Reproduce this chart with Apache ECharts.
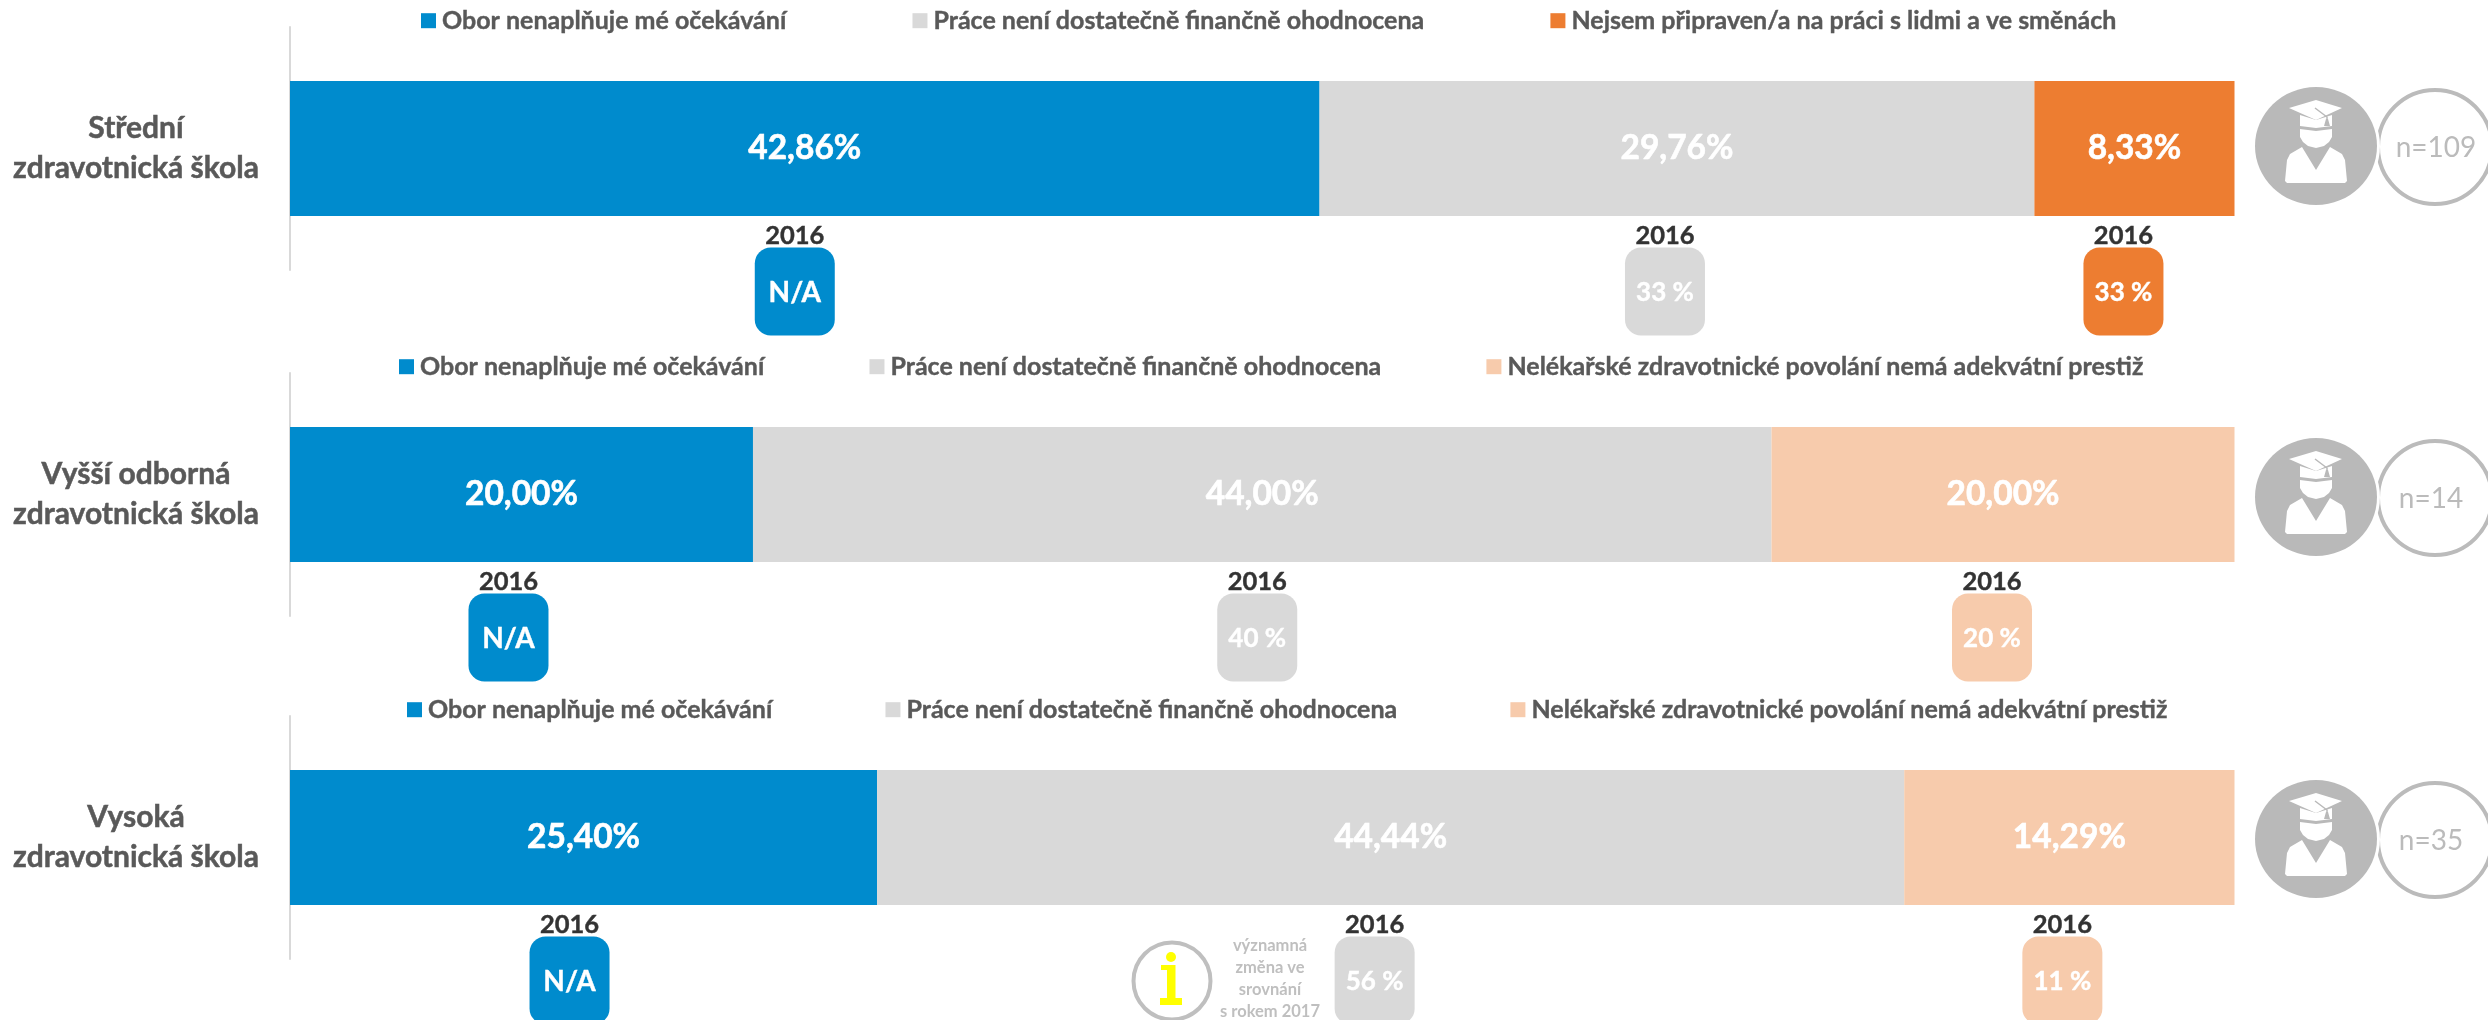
<!DOCTYPE html>
<html><head><meta charset="utf-8">
<style>html,body{margin:0;padding:0;background:#fff;overflow:hidden}#c{width:2488px;height:1020px}</style>
<script src="https://cdn.jsdelivr.net/npm/echarts@6/dist/echarts.min.js"></script>
</head><body><div id="c"></div>
<script>
const schools = ['Střední\nzdravotnická škola','Vyšší odborná\nzdravotnická škola','Vysoká\nzdravotnická škola'];
const nLabels = ['n=109','n=14','n=35'];
const nameObor = 'Obor nenaplňuje mé očekávání';
const namePrace = 'Práce není dostatečně finančně ohodnocena';
const nameNejsem = 'Nejsem připraven/a na práci s lidmi a ve směnách';
const namePrestiz = 'Nelékařské zdravotnické povolání nemá adekvátní prestiž';
const seriesNames = [[nameObor,namePrace,nameNejsem],[nameObor,namePrace,namePrestiz],[nameObor,namePrace,namePrestiz]];
const values1 = [42.86,29.76,8.33];
const values2 = [20.00,44.00,20.00];
const values3 = [25.40,44.44,14.29];
const prior1 = ['N/A','33 %','33 %'];
const prior2 = ['N/A','40 %','20 %'];
const prior3 = ['N/A','56 %','11 %'];
const priorYear = '2016';
const noteLines = 'významná\nzměna ve\nsrovnání\ns rokem 2017';

const FONT = 'Lato';
const colorOf = {[nameObor]:'#008BCD',[namePrace]:'#D9D9D9',[nameNejsem]:'#ED7D31',[namePrestiz]:'#F7CBAC'};
const allValues=[values1,values2,values3], allPrior=[prior1,prior2,prior3];
const gridTop=[27,373,716], gridH=243;
const legendTop=[3,349,692], legendLeft=[416,394,402], legendGap=[126,105,113];
const badgeShift=[[-10,-12,-11],[-13,-5,-11],[-14,-16,-7]];
const iconY=[146,497,839], nTextX=[2436,2431,2431];

const grid=[],xAxis=[],yAxis=[],series=[],legend=[];
schools.forEach((s,r)=>{
  grid.push({left:290,width:1944.5,top:gridTop[r],height:gridH});
  const total=allValues[r].reduce((a,b)=>a+b,0);
  xAxis.push({gridIndex:r,type:'value',min:0,max:total,show:false});
  yAxis.push({gridIndex:r,type:'category',data:[s],inverse:true,
    axisLine:{show:true,lineStyle:{color:'#D9D9D9',width:2}},axisTick:{show:false},
    axisLabel:{align:'center',margin:154,fontFamily:FONT,fontWeight:'bold',fontSize:30,lineHeight:40,color:'#595959',textBorderColor:'#595959',textBorderWidth:0.5}});
  legend.push({top:legendTop[r],left:legendLeft[r],itemWidth:15,itemHeight:15,itemGap:legendGap[r],icon:'rect',
    data:seriesNames[r],selectedMode:false,
    textStyle:{fontFamily:FONT,fontWeight:'bold',fontSize:25,color:'#595959',padding:[0,0,0,1],textBorderColor:'#595959',textBorderWidth:0.4}});
  allValues[r].forEach((v,i)=>{
    series.push({type:'bar',name:seriesNames[r][i],stack:'s'+r,xAxisIndex:r,yAxisIndex:r,barWidth:135,
      data:[v],itemStyle:{color:colorOf[seriesNames[r][i]]},animation:false,
      label:{show:true,position:'inside',formatter:p=>p.value.toFixed(2).replace('.',',')+'%',
        color:'#fff',fontFamily:FONT,fontWeight:'bold',fontSize:33.5,textBorderColor:'#fff',textBorderWidth:0.6}});
  });
  let cum=0;
  const badges=allValues[r].map((v,i)=>{const m=cum+v/2;cum+=v;return [m,0,i];});
  series.push({type:'custom',xAxisIndex:r,yAxisIndex:r,clip:false,silent:true,animation:false,
    encode:{x:0,y:1},data:badges,
    renderItem:(params,api)=>{
      const i=api.value(2),pt=api.coord([api.value(0),0]);
      const cx=pt[0]+badgeShift[r][i],cy=pt[1];
      const t=allPrior[r][i];
      return {type:'group',children:[
        {type:'rect',shape:{x:cx-40,y:cy+99,width:80,height:88,r:16},style:{fill:colorOf[seriesNames[r][i]]}},
        {type:'text',style:{x:cx,y:cy+87,text:priorYear,align:'center',verticalAlign:'middle',fontFamily:FONT,fontWeight:'bold',fontSize:25.5,fill:'#333',stroke:'#333',lineWidth:0.4}},
        {type:'text',style:{x:cx,y:cy+144,text:t,align:'center',verticalAlign:'middle',fontFamily:FONT,fontWeight:'bold',fontSize:t==='N/A'?28:26,fill:'#fff',stroke:'#fff',lineWidth:0.4}}
      ]};
    }});
});

function personIcon(cy,label,tx){
  const cx=2316, G='#B9B9B9', P=(a)=>a.map(p=>[cx+p[0],cy+p[1]]);
  return [
    {type:'circle',shape:{cx:2435,cy:cy+1,r:57},style:{fill:'#fff',stroke:'#BBBBBB',lineWidth:4}},
    {type:'text',style:{x:tx,y:cy+2,text:label,align:'center',verticalAlign:'middle',fontFamily:FONT,fontSize:28,fill:'#BBBBBB'}},
    {type:'ellipse',shape:{cx:cx,cy:cy,rx:64,ry:62},style:{fill:'#fff'}},
    {type:'ellipse',shape:{cx:cx,cy:cy,rx:61,ry:59},style:{fill:G}},
    {type:'polygon',shape:{points:P([[-16,-31],[0,-26],[16,-31],[16,-20],[8,-19],[0,-18],[-8,-19],[-16,-20]])},style:{fill:'#fff'}},
    {type:'polygon',shape:{points:P([[-16,-17],[-8,-16],[0,-15],[8,-16],[16,-17],[16,-9],[13,-4],[8,0],[0,2],[-8,0],[-13,-4],[-16,-9]])},style:{fill:'#fff'}},
    {type:'polygon',shape:{points:P([[-14,1],[0,24],[14,1],[26,8],[29,14],[31,35],[29,37],[-29,37],[-31,35],[-29,14],[-26,8]])},style:{fill:'#fff'}},
    {type:'polygon',shape:{points:P([[-27,-38],[0,-46],[26,-38],[0,-26]])},style:{fill:'#fff'}},
    {type:'polyline',shape:{points:P([[-1,-38],[11,-29],[11,-22]])},style:{stroke:G,fill:'none',lineWidth:1.5}},
    {type:'polygon',shape:{points:P([[10,-27],[12,-27],[14,-20],[8,-20]])},style:{fill:G}}
  ];
}
const graphic=[];
iconY.forEach((y,i)=>graphic.push(...personIcon(y,nLabels[i],nTextX[i])));
graphic.push(
  {type:'circle',shape:{cx:1172,cy:981,r:38.5},style:{fill:'#fff',stroke:'#BFBFBF',lineWidth:4}},
  {type:'circle',shape:{cx:1171,cy:957,r:5},style:{fill:'#FFFF00'}},
  {type:'polygon',shape:{points:[[1161,965],[1175.5,965],[1175.5,998],[1182,998],[1182,1005],[1160,1005],[1160,998],[1167,998],[1167,970],[1161,970]]},style:{fill:'#FFFF00'}},
  {type:'text',style:{x:1270,y:979,text:noteLines,align:'center',verticalAlign:'middle',fontFamily:FONT,fontWeight:'bold',fontSize:16.5,lineHeight:22,fill:'#BFBFBF'}}
);
const chart=echarts.init(document.getElementById('c'),null,{renderer:'canvas'});
chart.setOption({animation:false,backgroundColor:'#fff',grid,xAxis,yAxis,legend,series,graphic});
</script></body></html>
